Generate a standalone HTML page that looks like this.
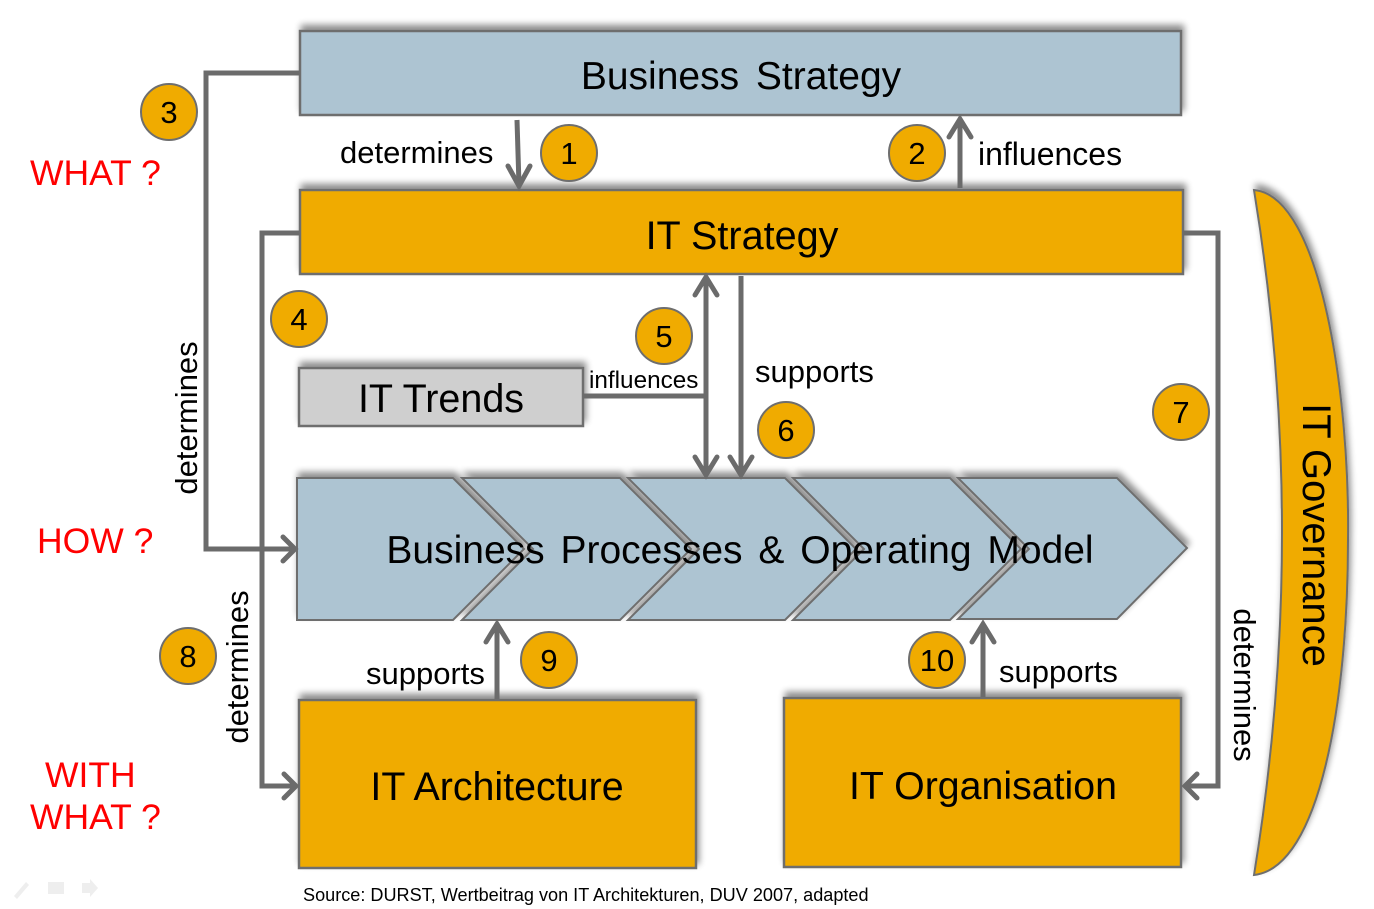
<!DOCTYPE html>
<html>
<head>
<meta charset="utf-8">
<style>
  html,body{margin:0;padding:0;background:#fff;}
  body{width:1374px;height:909px;overflow:hidden;}
  svg{display:block;}
  text{font-family:"Liberation Sans", Arial, sans-serif;}
</style>
</head>
<body>
<svg width="1374" height="909" viewBox="0 0 1374 909" xmlns="http://www.w3.org/2000/svg">
  <defs>
    <filter id="sh" x="-10%" y="-30%" width="120%" height="160%">
      <feGaussianBlur in="SourceAlpha" stdDeviation="3.5" result="b"/>
      <feOffset in="b" dx="2" dy="-5" result="o"/>
      <feComponentTransfer in="o" result="s"><feFuncA type="linear" slope="0.45"/></feComponentTransfer>
      <feMerge><feMergeNode in="s"/><feMergeNode in="SourceGraphic"/></feMerge>
    </filter>
  </defs>

  <!-- Boxes -->
  <g filter="url(#sh)" stroke="#6e6e6e" stroke-width="2.5">
    <rect x="300" y="31" width="881" height="84" fill="#adc4d2"/>
    <rect x="300" y="190" width="883" height="84" fill="#f0ab00"/>
    <rect x="299" y="368" width="284" height="58" fill="#cfcfcf"/>
    <rect x="299" y="700" width="397" height="168" fill="#f0ab00"/>
    <rect x="784" y="698" width="397" height="169" fill="#f0ab00"/>
  </g>

  <!-- Chevrons -->
  <g filter="url(#sh)" stroke="#6e6e6e" stroke-width="2" fill="#adc4d2">
    <polygon points="297,478 453,478 524,549 453,620 297,620"/>
    <polygon points="462,478 620,478 691,549 620,620 462,620 533,549"/>
    <polygon points="628,478 785,478 856,549 785,620 628,620 699,549"/>
    <polygon points="793,478 950,478 1021,549 950,620 793,620 864,549"/>
    <polygon points="958,478 1117,478 1187,548 1117,619 958,619 1029,549"/>
  </g>

  <!-- IT Governance crescent -->
  <path filter="url(#sh)" d="M1254,190 C1322,196 1350,400 1348,540 C1348,700 1320,868 1254,875 Q1310,532 1254,190 Z" fill="#f0ab00" stroke="#6e6e6e" stroke-width="2"/>

  <!-- Connectors -->
  <g stroke="#6b6b6b" stroke-width="5" fill="none" stroke-linejoin="miter" stroke-linecap="butt">
    <path d="M300,73 H206 V549 H294"/>
    <path d="M300,233 H262 V786 H295"/>
    <path d="M1183,233 H1218 V786 H1187"/>
    <path d="M517,120 L519,185"/>
    <path d="M960,188 V120"/>
    <path d="M583,396 H708"/>
    <path d="M706,279 V474"/>
    <path d="M741,276 V474"/>
    <path d="M497,699 V625"/>
    <path d="M983,697 V625"/>
  </g>
  <!-- Arrowheads -->
  <g stroke="#6b6b6b" stroke-width="5" fill="none" stroke-linejoin="miter" stroke-linecap="round">
    <polyline points="283,537 295,549 283,561"/>
    <polyline points="284,774 296,786 284,798"/>
    <polyline points="1197,774 1185,786 1197,798"/>
    <polyline points="508,166 519,186 530,166"/>
    <polyline points="949,137 960,119 971,137"/>
    <polyline points="695,295 706,277 717,295"/>
    <polyline points="695,457 706,475 717,457"/>
    <polyline points="730,457 741,475 752,457"/>
    <polyline points="486,642 497,624 508,642"/>
    <polyline points="972,642 983,624 994,642"/>
  </g>

  <!-- Box texts -->
  <g fill="#000" text-anchor="middle">
    <text x="741" y="89" font-size="39" word-spacing="6">Business Strategy</text>
    <text x="742" y="249" font-size="39.6">IT Strategy</text>
    <text x="441" y="412" font-size="39.5">IT Trends</text>
    <text x="740" y="563" font-size="39" word-spacing="5">Business Processes &amp; Operating Model</text>
    <text x="497" y="800" font-size="39.4">IT Architecture</text>
    <text x="983" y="799" font-size="39.3">IT Organisation</text>
    <text transform="translate(1303,535) rotate(90)" font-size="40">IT Governance</text>
  </g>

  <!-- Connector labels -->
  <g fill="#000" font-size="31">
    <text x="340" y="163">determines</text>
    <text x="978" y="165" font-size="32">influences</text>
    <text x="755" y="382">supports</text>
    <text x="366" y="684">supports</text>
    <text x="999" y="682">supports</text>
    <text x="589" y="388" font-size="24.3">influences</text>
    <text transform="translate(197,418) rotate(-90)" text-anchor="middle">determines</text>
    <text transform="translate(248,667) rotate(-90)" text-anchor="middle">determines</text>
    <text transform="translate(1234,685) rotate(90)" text-anchor="middle">determines</text>
  </g>

  <!-- Numbered circles -->
  <g fill="#f0ab00" stroke="#6e6e6e" stroke-width="2">
    <circle cx="569" cy="153" r="28"/>
    <circle cx="917" cy="153" r="28"/>
    <circle cx="169" cy="112" r="28"/>
    <circle cx="299" cy="319" r="28"/>
    <circle cx="664" cy="336" r="28"/>
    <circle cx="786" cy="430" r="28"/>
    <circle cx="1181" cy="412" r="28"/>
    <circle cx="188" cy="656" r="28"/>
    <circle cx="549" cy="660" r="28"/>
    <circle cx="937" cy="660" r="28"/>
  </g>
  <g fill="#000" font-size="31" text-anchor="middle">
    <text x="569" y="164">1</text>
    <text x="917" y="164">2</text>
    <text x="169" y="123">3</text>
    <text x="299" y="330">4</text>
    <text x="664" y="347">5</text>
    <text x="786" y="441">6</text>
    <text x="1181" y="423">7</text>
    <text x="188" y="667">8</text>
    <text x="549" y="671">9</text>
    <text x="937" y="671">10</text>
  </g>

  <!-- Red questions -->
  <g fill="#ff0000" font-size="35.5">
    <text x="30" y="185">WHAT ?</text>
    <text x="37" y="553">HOW ?</text>
    <text x="45" y="787">WITH</text>
    <text x="30" y="829">WHAT ?</text>
  </g>

  <!-- Source -->
  <text x="303" y="901" font-size="18.1" fill="#000">Source: DURST, Wertbeitrag von IT Architekturen, DUV 2007, adapted</text>

  <!-- faint toolbar icons -->
  <g fill="#eeeeee" stroke="none">
    <polygon points="14,896 26,882 29,885 17,899"/>
    <rect x="48" y="882" width="16" height="12"/>
    <polygon points="82,883 90,883 90,879 98,888 90,897 90,893 82,893"/>
  </g>
</svg>
</body>
</html>
